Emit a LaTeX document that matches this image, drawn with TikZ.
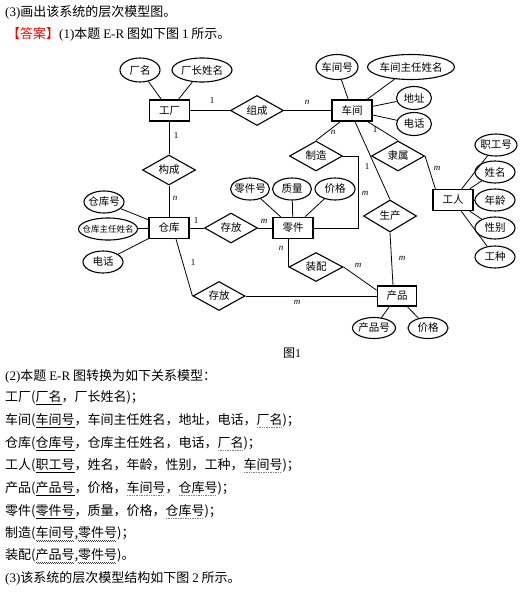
\documentclass[tikz,border=0pt]{standalone}
\usepackage{fontspec}
\setmainfont{Noto Sans CJK SC}
\newfontfamily\lat{Liberation Serif}
\usetikzlibrary{shapes.geometric}
\newcommand\zb[1]{\makebox[0pt]{#1}}
\newcommand\solul[1]{\setbox0\hbox{#1}\rlap{\raisebox{-3pt}{\rule{\wd0}{0.7pt}}}\box0}
\newcommand\dotul[1]{\setbox0\hbox{#1}\rlap{\raisebox{-3pt}{\textcolor{gray}{\leaders\hbox{\kern0.45pt\rule{0.8pt}{0.8pt}\kern0.45pt}\hskip\wd0}}}\box0}
\newcommand\wavul[1]{\setbox0\hbox{#1}\rlap{\raisebox{-3.4pt}{\textcolor{darkgray}{\leaders\hbox{\rule[0.7pt]{1pt}{0.6pt}\rule{1pt}{0.6pt}}\hskip\wd0}}}\box0}
\begin{document}
\begin{tikzpicture}[x=1pt,y=-1pt,
  ent/.style={draw, line width=1.3pt, minimum width=40pt, minimum height=21pt, inner sep=0pt, font=\fontsize{10.5pt}{12pt}\selectfont},
  attr/.style={draw, ellipse, line width=1.1pt, inner sep=0pt, minimum width=40pt, minimum height=22pt, font=\fontsize{10.5pt}{12pt}\selectfont},
  rel/.style={draw, diamond, aspect=1.8, line width=1.1pt, inner sep=0pt, minimum width=53pt, minimum height=30pt, font=\fontsize{10.5pt}{12pt}\selectfont},
  conn/.style={line width=0.8pt},
  el/.style={font=\lat\itshape\fontsize{9pt}{10pt}\selectfont, inner sep=0pt},
  one/.style={font=\lat\fontsize{9pt}{10pt}\selectfont, inner sep=0pt},
  txt/.style={anchor=west, inner sep=0pt, font=\fontsize{13pt}{15pt}\selectfont}]
\useasboundingbox (0,0) rectangle (524,597);

% top text
\node[txt] (t1) at (5,12) {{\lat (3)}画出该系统的层次模型图。};
\node[txt] (t2) at (7,34) {\textcolor{red}{【答案】}{\lat (1)}本题 {\lat E-R} 图如下图 {\lat 1} 所示。};

% entities and attributes
\node[ent] (gc) at (169.5,110.5) {\zb{工厂}};
\node[attr, minimum width=40pt, minimum height=24pt] (cm) at (140,70) {\zb{厂名}};
\node[attr, minimum width=60pt, minimum height=24pt] (czxm) at (202,70) {\zb{厂长姓名}};
\node[rel] (zc) at (257,110.5) {\zb{组成}};
\node[rel] (gouc) at (169,170) {\zb{构成}};

\node[ent] (cj) at (352,110.5) {\zb{车间}};
\node[attr, minimum width=42pt, minimum height=25pt] (cjh) at (337,67) {\zb{车间号}};
\node[attr, minimum width=87pt, minimum height=25pt] (cjzr) at (411,67) {\zb{车间主任姓名}};
\node[attr, minimum width=35pt, minimum height=23pt] (dz) at (414,98) {\zb{地址}};
\node[attr, minimum width=35pt, minimum height=23pt] (dha) at (414,124) {\zb{电话}};
\node[rel] (zz) at (316,156) {\zb{制造}};
\node[rel] (ls) at (398,156) {\zb{隶属}};
\node[rel, minimum height=32pt] (sc) at (390,216) {\zb{生产}};

\node[ent] (gr) at (453,200) {\zb{工人}};
\node[attr, minimum width=42pt] (zgh) at (496,145) {\zb{职工号}};
\node[attr] (xm) at (495,172) {\zb{姓名}};
\node[attr] (nl) at (495,200) {\zb{年龄}};
\node[attr] (xb) at (495,228) {\zb{性别}};
\node[attr] (gz) at (495,257) {\zb{工种}};

\node[ent] (ck) at (169,228) {\zb{仓库}};
\node[attr] (ckh) at (104,202) {\zb{仓库号}};
\node[attr, minimum width=59pt, font=\fontsize{8.5pt}{10pt}\selectfont] (ckzr) at (108,229) {\zb{仓库主任姓名}};
\node[attr] (dhb) at (103,262) {\zb{电话}};
\node[rel] (cfa) at (231,228) {\zb{存放}};

\node[ent] (lj) at (293,228) {\zb{零件}};
\node[attr, minimum width=39pt] (ljh) at (250,189) {\zb{零件号}};
\node[attr, minimum width=39pt] (zl) at (292,189) {\zb{质量}};
\node[attr] (jga) at (335,189) {\zb{价格}};

\node[rel, minimum width=54pt, minimum height=29pt] (zp) at (316,267) {\zb{装配}};
\node[rel, minimum width=52pt, minimum height=29pt] (cfb) at (219,296) {\zb{存放}};
\node[ent, minimum width=39pt, minimum height=20pt] (cp) at (397,296) {\zb{产品}};
\node[attr, minimum width=43pt, minimum height=21pt] (cph) at (374,328) {\zb{产品号}};
\node[attr, minimum height=21pt] (jgb) at (428,328) {\zb{价格}};

% connectors
\draw[conn] (cm) -- (gc);
\draw[conn] (czxm) -- (gc);
\draw[conn] (gc) -- (zc);
\draw[conn] (zc) -- (cj);
\draw[conn] (gc.south -| gouc.north) -- (gouc.north);
\draw[conn] (gouc.south) -- (ck.north -| gouc.south);
\draw[conn] (cjh) -- (cj);
\draw[conn] (cjzr) -- (cj);
\draw[conn] (dz) -- (cj);
\draw[conn] (dha) -- (cj);
\draw[conn] ([xshift=9pt]cj.south west) -- (zz.north);
\draw[conn] ([xshift=-5pt]cj.south east) -- (ls.north);
\draw[conn] ([xshift=3pt]cj.south) -- (sc.north);
\coordinate (zzturn) at (358,156);
\draw[conn] (zz.east) -- (zzturn) |- (lj.east);
\draw[conn] (ls.east) -- ([xshift=3pt]gr.north west);
\draw[conn] (zgh) -- (gr);
\draw[conn] (xm) -- (gr);
\draw[conn] (nl) -- (gr);
\draw[conn] (xb) -- (gr);
\draw[conn] (gz) -- (gr);
\draw[conn] (ckh) -- (ck);
\draw[conn] (ckzr) -- (ck);
\draw[conn] (dhb) -- (ck);
\draw[conn] (ck) -- (cfa);
\draw[conn] (cfa) -- (lj);
\draw[conn] (ljh) -- (lj);
\draw[conn] (zl) -- (lj);
\draw[conn] (jga) -- (lj);
\draw[conn] (zp.west |- lj.south) -- (zp.west);
\draw[conn] (zp.east) -- ([yshift=-5pt]cp.north west);
\draw[conn] (sc.south) -- ([xshift=-4pt]cp.north);
\draw[conn] ([xshift=7pt]ck.south) -- (cfb.west);
\draw[conn] (cfb.east) -- (cp.west);
\draw[conn] (cph) -- (cp);
\draw[conn] (jgb) -- (cp);

% cardinalities
\node[one] (l1) at (212,101) {1};
\node[el] (l2) at (307,102) {n};
\node[one] (l3) at (176,136) {1};
\node[el] (l4) at (175,198) {n};
\node[el] (l5) at (333,132) {n};
\node[one] (l6) at (375,130) {1};
\node[el] (l7) at (437,168) {m};
\node[one] (l8) at (367,167) {1};
\node[el] (l9) at (365,193) {m};
\node[one] (l10) at (196,221) {1};
\node[el] (l11) at (264,221) {m};
\node[el] (l12) at (281,248) {n};
\node[el] (l13) at (358,265) {m};
\node[el] (l14) at (402,258) {m};
\node[one] (l15) at (193,263) {1};
\node[el] (l16) at (297,302) {m};

\node[font=\fontsize{12pt}{14pt}\selectfont] (cap) at (292,353) {图{\lat 1}};

% relational model text
\node[txt] (r0) at (5,376) {{\lat (2)}本题 {\lat E-R} 图转换为如下关系模型：};
\node[txt] (r1) at (5,398) {工厂(\solul{厂名}，厂长姓名)；};
\node[txt] (r2) at (5,421) {车间(\solul{车间号}，车间主任姓名，地址，电话，\dotul{厂名})；};
\node[txt] (r3) at (5,444) {仓库(\solul{仓库号}，仓库主任姓名，电话，\dotul{厂名})；};
\node[txt] (r4) at (5,466) {工人(\solul{职工号}，姓名，年龄，性别，工种，\dotul{车间号})；};
\node[txt] (r5) at (5,489) {产品(\solul{产品号}，价格，\dotul{车间号}，\dotul{仓库号})；};
\node[txt] (r6) at (5,512) {零件(\solul{零件号}，质量，价格，\dotul{仓库号})；};
\node[txt] (r7) at (5,534) {制造(\wavul{车间号},\wavul{零件号})；};
\node[txt] (r8) at (5,556) {装配(\wavul{产品号},\wavul{零件号})。};
\node[txt] (r9) at (5,578) {{\lat (3)}该系统的层次模型结构如下图 {\lat 2} 所示。};
\end{tikzpicture}
\end{document}
